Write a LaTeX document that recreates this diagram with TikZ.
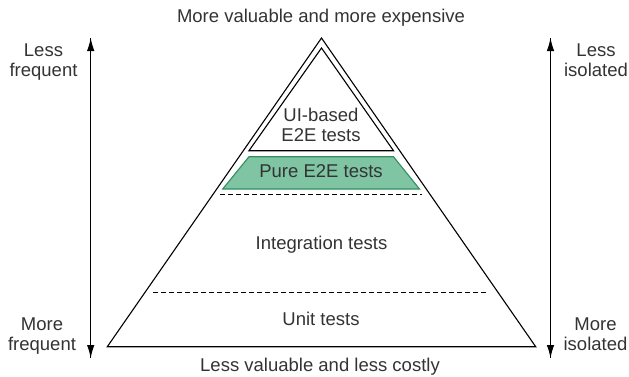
\documentclass[tikz,border=0pt]{standalone}
\usepackage{fontspec}
\setmainfont{Liberation Sans}
\usetikzlibrary{arrows.meta}
\definecolor{textgray}{HTML}{333333}
\definecolor{puregreen}{HTML}{7FC4A3}
\definecolor{pureedge}{HTML}{32905E}
\tikzset{
  lbl/.style={text=textgray, font=\fontsize{18.5}{20}\selectfont, inner sep=0pt, align=center},
  sidearrow/.style={line width=1pt, -{Latex[length=13pt,width=7.5pt]}},
  layer/.style={dashed, line width=1pt, dash pattern=on 5pt off 3pt}
}
\begin{document}
\begin{tikzpicture}[x=1pt,y=-1pt]
            \useasboundingbox (0,0) rectangle (629,376);
            % pyramid
            \draw[line width=1.1pt, line join=miter] (321.5,38) -- (107.3,346.7) -- (535.7,346.7) -- cycle;
            \draw[line width=1.1pt] (321.5,48) -- (249,150.7) -- (393.5,150.7) -- cycle;
            \filldraw[fill=puregreen, draw=pureedge, line width=1.1pt] (249,156.7) -- (393.5,156.7) -- (419.5,189) -- (222.7,189) -- cycle;
            \draw[layer] (220,194) -- (422,194);
            \draw[layer] (153,292) -- (488,292);
            % layer labels
            \node[lbl, anchor=base] (ui) at (321,141.7) {UI-based\\E2E tests};
            \node[lbl, anchor=base] (pure) at (321,177.3) {Pure E2E tests};
            \node[lbl, anchor=base] (integ) at (321.5,249) {Integration tests};
            \node[lbl, anchor=base] (unit) at (321,325) {Unit tests};
            \node[lbl, anchor=base] (top) at (321,22.7) {More valuable and more expensive};
            \node[lbl, anchor=base] (bottom) at (320,371.7) {Less valuable and less costly};
            % side arrows
            \coordinate (lefttop) at (90.7,38);
            \coordinate (leftbot) at (90.7,358);
            \coordinate (righttop) at (550.5,38);
            \coordinate (rightbot) at (550.5,358);
            \draw[sidearrow] (leftbot) -- (lefttop);
            \draw[sidearrow] (lefttop) -- (leftbot);
            \draw[sidearrow] (rightbot) -- (righttop);
            \draw[sidearrow] (righttop) -- (rightbot);
            \node[lbl, anchor=base] (lessfreq) at (43.5,76.7) {Less\\frequent};
            \node[lbl, anchor=base] (morefreq) at (42,350) {More\\frequent};
            \node[lbl, anchor=base] (lessiso) at (596,76.7) {Less\\isolated};
            \node[lbl, anchor=base] (moreiso) at (595.5,350) {More\\isolated};
        \end{tikzpicture}
\end{document}
